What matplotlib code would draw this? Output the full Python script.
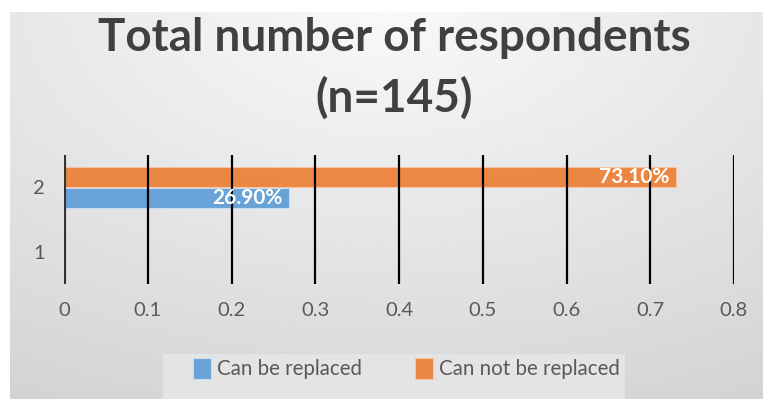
import numpy as np
import matplotlib.pyplot as plt
from matplotlib.patches import Rectangle

# survey answers, share of respondents
categories = [1, 2]
can_be_replaced = [0.0, 0.269]
can_not_be_replaced = [0.0, 0.731]
labels_2 = ['26.90%', '73.10%']
xticks = [0, 0.1, 0.2, 0.3, 0.4, 0.5, 0.6, 0.7, 0.8]

blue = '#5B9BD5'
orange = '#ED7D31'
grey_txt = '#595959'

plt.rcParams['font.family'] = ['Lato', 'DejaVu Sans']

fig = plt.figure(figsize=(7.63, 3.99), dpi=100)
fig.patch.set_facecolor('white')

# grey gradient background of the chart area
bg = fig.add_axes([10/763, 0, 1 - 10/763, 1 - 12/399], zorder=-5)
yy, xx = np.mgrid[0:1:200j, 0:1:400j]
r = np.sqrt(((xx - 0.5) * 1.1) ** 2 + (yy * 1.0) ** 2)
shade = 0.975 - 0.13 * np.clip(r, 0, 1.2)
bg.imshow(shade, cmap='gray', vmin=0, vmax=1, aspect='auto', extent=[0, 1, 1, 0])
bg.set_axis_off()

ax = fig.add_axes([64/763, 1 - 284/399, (734 - 64)/763, (284 - 155)/399])
ax.patch.set_alpha(0)

y = np.array(categories, dtype=float)
h = 0.31
ax.barh(y - 0.16, can_be_replaced, height=h, color=blue, alpha=0.9,
        edgecolor='#cfe0f2', linewidth=0.8, label='Can be replaced', zorder=3)
ax.barh(y + 0.16, can_not_be_replaced, height=h, color=orange, alpha=0.9,
        edgecolor='#f7c7a5', linewidth=0.8, label='Can not be replaced', zorder=3)

ax.text(can_be_replaced[1] - 0.008, 2 - 0.16, labels_2[0], ha='right', va='center',
        color='white', fontsize=15, fontweight='bold', zorder=5)
ax.text(can_not_be_replaced[1] - 0.008, 2 + 0.16, labels_2[1], ha='right', va='center',
        color='white', fontsize=15, fontweight='bold', zorder=5)

ax.set_xlim(0, 0.8)
ax.set_ylim(0.5, 2.5)
ax.set_xticks(xticks)
ax.set_xticklabels(['0' if v == 0 else f'{v:g}' for v in xticks])
ax.set_yticks(categories)
for v in xticks[1:]:
    ax.axvline(v, color='black', lw=1.6, zorder=4)
ax.axvline(0, color='#333333', lw=3, zorder=4)
for s in ax.spines.values():
    s.set_visible(False)
ax.tick_params(length=0, labelsize=14.5, labelcolor=grey_txt)
ax.tick_params(axis='x', pad=13)
ax.tick_params(axis='y', pad=14)

fig.text(0.517, 0.905, 'Total number of respondents', ha='center', va='center',
         fontsize=33, fontweight='bold', color='#404040')
fig.text(0.517, 0.755, '(n=145)', ha='center', va='center',
         fontsize=33, fontweight='bold', color='#404040')

# legend on a lighter band at the bottom
fig.patches.append(Rectangle((163/763, 0), (625 - 163)/763, 45/399,
                             transform=fig.transFigure, facecolor='#e4e4e4',
                             edgecolor='none', zorder=-1))
leg = fig.legend(loc='center', bbox_to_anchor=(0.533, 0.077), ncol=2, frameon=False,
                 fontsize=14.8, handlelength=0.85, handleheight=1.2, handletextpad=0.3,
                 columnspacing=2.6)
for t in leg.get_texts():
    t.set_color(grey_txt)

fig.savefig('out.png', dpi=100)
